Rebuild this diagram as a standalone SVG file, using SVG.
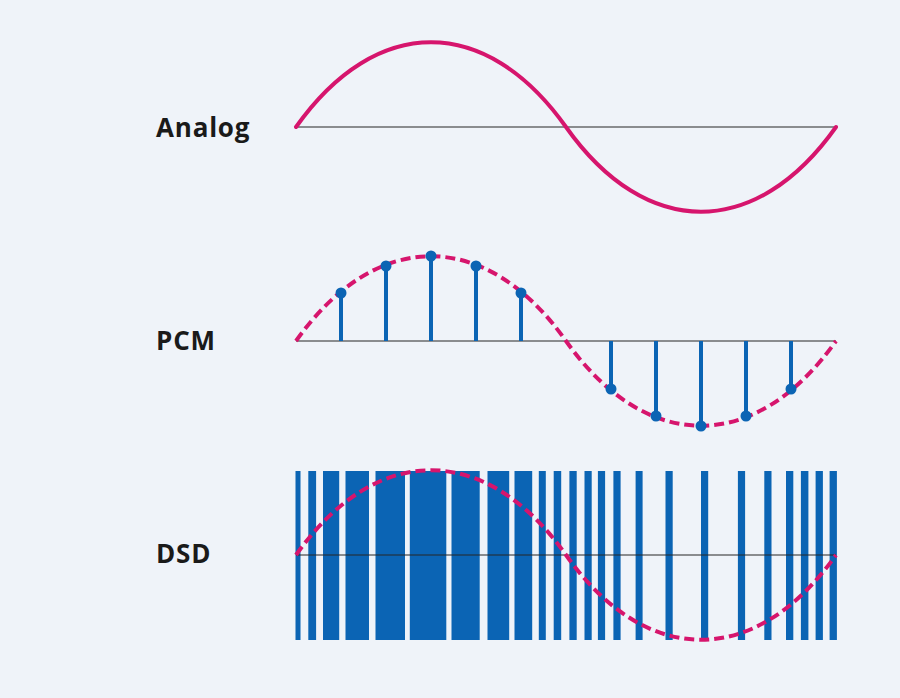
<svg xmlns="http://www.w3.org/2000/svg" width="900" height="698" viewBox="0 0 900 698">
<style>
.lbl{font-family:"Open Sans","Liberation Sans",sans-serif;font-weight:700;font-size:26px;letter-spacing:0.8px;fill:#1a1a1a}
.axis{stroke:#262626;stroke-width:1.2;fill:none}
.wave{stroke:#d6156d;stroke-width:4;fill:none;stroke-linecap:round}
.dash{stroke:#d6156d;stroke-width:4;fill:none;stroke-dasharray:10 5}
.stem{stroke:#0b64b4;stroke-width:4}
.dot{fill:#0b64b4}
.bar{fill:#0b64b4}
</style>
<rect width="900" height="698" fill="#eff3f9"/>
<g id="analog">
<text class="lbl" x="156" y="137">Analog</text>
<line class="axis" x1="296" y1="127" x2="836" y2="127"/>
<path class="wave" d="M296,127 C376,14 486,14 566,127 C646,240 756,240 836,127"/>
</g>
<g id="pcm">
<text class="lbl" x="156" y="350">PCM</text>
<line class="axis" x1="296" y1="341" x2="836" y2="341"/>
<g id="pcm-stems">
<line class="stem" x1="341" y1="341" x2="341" y2="293"/>
<line class="stem" x1="386" y1="341" x2="386" y2="266"/>
<line class="stem" x1="431" y1="341" x2="431" y2="256"/>
<line class="stem" x1="476" y1="341" x2="476" y2="266"/>
<line class="stem" x1="521" y1="341" x2="521" y2="293"/>
<line class="stem" x1="611" y1="341" x2="611" y2="389"/>
<line class="stem" x1="656" y1="341" x2="656" y2="416"/>
<line class="stem" x1="701" y1="341" x2="701" y2="426"/>
<line class="stem" x1="746" y1="341" x2="746" y2="416"/>
<line class="stem" x1="791" y1="341" x2="791" y2="389"/>
</g>
<path class="dash" d="M296,341 C376,228 486,228 566,341 C646,454 756,454 836,341"/>
<g id="pcm-dots">
<circle class="dot" cx="341" cy="293" r="5.5"/>
<circle class="dot" cx="386" cy="266" r="5.5"/>
<circle class="dot" cx="431" cy="256" r="5.5"/>
<circle class="dot" cx="476" cy="266" r="5.5"/>
<circle class="dot" cx="521" cy="293" r="5.5"/>
<circle class="dot" cx="611" cy="389" r="5.5"/>
<circle class="dot" cx="656" cy="416" r="5.5"/>
<circle class="dot" cx="701" cy="426" r="5.5"/>
<circle class="dot" cx="746" cy="416" r="5.5"/>
<circle class="dot" cx="791" cy="389" r="5.5"/>
</g>
</g>
<g id="dsd">
<text class="lbl" x="156" y="563">DSD</text>
<g id="dsd-bars">
<rect class="bar" x="295.5" y="471" width="5" height="169"/>
<rect class="bar" x="308.3" y="471" width="7.8" height="169"/>
<rect class="bar" x="323" y="471" width="16.2" height="169"/>
<rect class="bar" x="345.5" y="471" width="23.5" height="169"/>
<rect class="bar" x="375.5" y="471" width="29.5" height="169"/>
<rect class="bar" x="409.8" y="471" width="36.5" height="169"/>
<rect class="bar" x="451.5" y="471" width="28.2" height="169"/>
<rect class="bar" x="487.5" y="471" width="21.7" height="169"/>
<rect class="bar" x="514.5" y="471" width="17.7" height="169"/>
<rect class="bar" x="538.8" y="471" width="7" height="169"/>
<rect class="bar" x="553.7" y="471" width="7.5" height="169"/>
<rect class="bar" x="569.4" y="471" width="7.3" height="169"/>
<rect class="bar" x="584.5" y="471" width="7.2" height="169"/>
<rect class="bar" x="597.9" y="471" width="7.2" height="169"/>
<rect class="bar" x="613.4" y="471" width="7.2" height="169"/>
<rect class="bar" x="635.6" y="471" width="7" height="169"/>
<rect class="bar" x="665.5" y="471" width="7.2" height="169"/>
<rect class="bar" x="701" y="471" width="7.2" height="169"/>
<rect class="bar" x="737.9" y="471" width="7.2" height="169"/>
<rect class="bar" x="764.3" y="471" width="7.2" height="169"/>
<rect class="bar" x="786" y="471" width="7.3" height="169"/>
<rect class="bar" x="800.9" y="471" width="7.5" height="169"/>
<rect class="bar" x="815.6" y="471" width="7.3" height="169"/>
<rect class="bar" x="829.6" y="471" width="7.3" height="169"/>
</g>
<line class="axis" x1="296" y1="555" x2="836" y2="555"/>
<path class="dash" d="M296,555 C376,442 486,442 566,555 C646,668 756,668 836,555"/>
</g>
</svg>
